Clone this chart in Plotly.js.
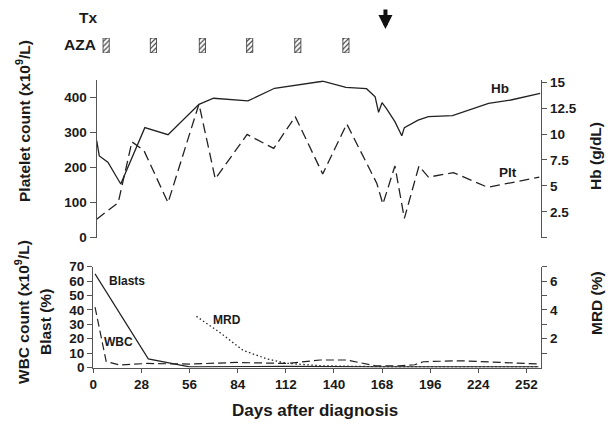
<!DOCTYPE html>
<html>
<head>
<meta charset="utf-8">
<script src="https://cdn.plot.ly/plotly-3.0.1.min.js"></script>
<style>html,body{margin:0;padding:0;background:#fff;}#chart{width:611px;height:426px;}</style>
</head>
<body>
<div id="chart"></div>
<script>
// ---------- data ----------
const hbDays = [2, 3.5, 8.5, 16, 30, 43.5, 61.5, 70, 90, 105.5, 133.5, 147, 159, 164, 166, 168, 170.5, 175.5, 179.5, 181, 189, 195, 209, 230, 243, 260];
const hbValues = [9.37, 7.89, 7.28, 5.18, 10.62, 9.94, 12.87, 13.46, 13.2, 14.42, 15.1, 14.51, 14.38, 13.6, 12.1, 13.03, 12.49, 11.2, 9.84, 10.62, 11.35, 11.68, 11.78, 12.97, 13.29, 13.94];

const pltDays = [2, 14.5, 22.5, 29.5, 43.5, 61.5, 71, 89.5, 105, 117.5, 133.5, 147.5, 165, 168.5, 175.5, 181, 189.5, 195, 209.5, 229.5, 259.5];
const pltValues = [53, 100, 274, 249, 100, 382, 168, 295, 255, 346, 182, 325, 155, 96, 205, 55, 205, 173, 186, 144, 173];

const blastDays = [1, 32, 56, 112, 168, 196, 259];
const blastValues = [65, 6, 0.5, 0.8, 0.5, 0.5, 0.5];

const wbcDays = [1, 7.5, 15.5, 31, 56, 83.5, 112.5, 132, 147.5, 164, 178, 187, 192, 213, 259];
const wbcValues = [42, 4.2, 1.7, 2.8, 2.4, 3.5, 2.8, 5.2, 5.2, 1.2, 1.2, 1.9, 4.0, 4.7, 2.4];

const mrdDays = [60, 74, 87, 101, 112, 132, 168, 196, 259];
const mrdValues = [3.55, 2.4, 1.2, 0.6, 0.3, 0.12, 0.05, 0.05, 0.05];

const azaDays = [7.5, 35, 63.5, 91, 119, 147];
const txDay = 170;

const xTicks = [0, 28, 56, 84, 112, 140, 168, 196, 224, 252];
const pltTicks = [0, 100, 200, 300, 400];
const hbTicks = [2.5, 5, 7.5, 10, 12.5, 15];
const hbMinorTicks = [0];
const wbcTicks = [0, 10, 20, 30, 40, 50, 60, 70];
const mrdTicks = [2, 4, 6];
const mrdMinorTicks = [1, 3, 5, 7];

// ---------- helpers ----------
const W = 611, H = 426;
const px = x => x / W;
const py = y => 1 - y / H;
const FONT = 'Liberation Sans, Arial, sans-serif';
const INK = '#1a1a1a';
const AX = '#555555';
const tickFont = {family: FONT, size: 13.5, color: INK, weight: 'bold'};

const traces = [
  {x: hbDays, y: hbValues, xaxis: 'x2', yaxis: 'y2', mode: 'lines', name: 'Hb',
   line: {color: '#222', width: 1.3}},
  {x: pltDays, y: pltValues, xaxis: 'x2', yaxis: 'y', mode: 'lines', name: 'Plt',
   line: {color: '#222', width: 1.3, dash: '10px,5px'}},
  {x: blastDays, y: blastValues, xaxis: 'x', yaxis: 'y3', mode: 'lines', name: 'Blasts',
   line: {color: '#222', width: 1.2}},
  {x: wbcDays, y: wbcValues, xaxis: 'x', yaxis: 'y3', mode: 'lines', name: 'WBC',
   line: {color: '#222', width: 1.2, dash: '8px,4px'}},
  {x: mrdDays, y: mrdValues, xaxis: 'x', yaxis: 'y4', mode: 'lines', name: 'MRD',
   line: {color: '#222', width: 1.3, dash: '1.5px,2.5px'}},
  {x: azaDays, y: azaDays.map(() => 1), base: 0, type: 'bar', xaxis: 'x2', yaxis: 'y5', name: 'AZA',
   width: 3.6,
   marker: {color: '#ffffff', line: {color: '#333', width: 0.8},
            pattern: {shape: '/', fgcolor: '#444', bgcolor: '#ffffff', size: 3.5, solidity: 0.35}}}
];

function titleAnn(text, x, y, angle, size) {
  return {text: text, xref: 'paper', yref: 'paper', x: px(x), y: py(y), showarrow: false,
          textangle: angle, xanchor: 'center', yanchor: 'middle',
          font: {family: FONT, size: size, color: INK, weight: 'bold'}};
}

const layout = {
  width: W, height: H,
  margin: {l: 0, r: 0, t: 0, b: 0},
  paper_bgcolor: '#ffffff', plot_bgcolor: 'rgba(0,0,0,0)',
  showlegend: false,
  xaxis: {domain: [px(93.3), px(541)], range: [0, 260.5], anchor: 'y3',
          tickvals: xTicks, ticks: 'outside', ticklen: 4, tickcolor: AX, tickwidth: 1,
          showline: true, linecolor: AX, linewidth: 1.2, zeroline: false, showgrid: false,
          tickfont: tickFont, fixedrange: true},
  xaxis2: {domain: [px(96.7), px(541)], range: [2, 260.5], anchor: 'y',
           showline: false, showticklabels: false, ticks: '', zeroline: false, showgrid: false},
  yaxis: {domain: [py(237.7), py(80.2)], range: [0, 450], anchor: 'x2', side: 'left',
          tickvals: pltTicks, ticks: 'outside', ticklen: 6, tickcolor: AX,
          showline: true, linecolor: AX, linewidth: 1.2, zeroline: false, showgrid: false,
          tickfont: tickFont},
  yaxis2: {overlaying: 'y', anchor: 'x2', side: 'right', range: [0, 15.2],
           tickvals: hbTicks, ticks: 'outside', ticklen: 5, tickcolor: AX,
           minor: {tickvals: hbMinorTicks, ticks: 'outside', ticklen: 5, tickcolor: AX, showgrid: false},
           showline: true, linecolor: AX, linewidth: 1.2, zeroline: false, showgrid: false,
           tickfont: tickFont},
  yaxis3: {domain: [py(367.5), py(266.7)], range: [0, 70], anchor: 'x', side: 'left',
           tickvals: wbcTicks, ticks: 'outside', ticklen: 5, tickcolor: AX,
           showline: true, linecolor: AX, linewidth: 1.2, zeroline: false, showgrid: false,
           tickfont: tickFont},
  yaxis4: {overlaying: 'y3', anchor: 'x', side: 'right', range: [0, 7],
           tickvals: mrdTicks, ticks: 'outside', ticklen: 5, tickcolor: AX,
           minor: {tickvals: mrdMinorTicks, ticks: 'outside', ticklen: 5, tickcolor: AX, showgrid: false},
           showline: true, linecolor: AX, linewidth: 1.2, zeroline: false, showgrid: false,
           tickfont: tickFont},
  yaxis5: {domain: [py(53), py(38)], range: [0, 1], anchor: 'x2', visible: false, fixedrange: true},
  annotations: [
    titleAnn('Platelet count (x10<sup>9</sup>/L)', 23, 121, -90, 15.5),
    titleAnn('Hb (g/dL)', 596, 156, -90, 15.5),
    titleAnn('WBC count (x10<sup>9</sup>/L)', 22, 312, -90, 15.5),
    titleAnn('Blast (%)', 45, 322, -90, 15.5),
    titleAnn('MRD (%)', 596, 303, -90, 15.5),
    titleAnn('Days after diagnosis', 315, 410, 0, 17),
    titleAnn('Tx', 88, 18, 0, 15.5),
    titleAnn('AZA', 80, 45, 0, 15.5),
    titleAnn('Hb', 500, 88, 0, 13.5),
    titleAnn('Plt', 508, 172, 0, 13.5),
    titleAnn('Blasts', 127, 281, 0, 12),
    titleAnn('WBC', 118, 342, 0, 12),
    titleAnn('MRD', 227, 320, 0, 12),
    {text: '', xref: 'x2', yref: 'paper', x: txDay, y: py(29), ax: 0, ay: -21,
     showarrow: true, arrowhead: 2, arrowsize: 0.7, arrowwidth: 4, arrowcolor: '#111'}
  ]
};

Plotly.newPlot('chart', traces, layout, {staticPlot: true, displayModeBar: false});
</script>
</body>
</html>
